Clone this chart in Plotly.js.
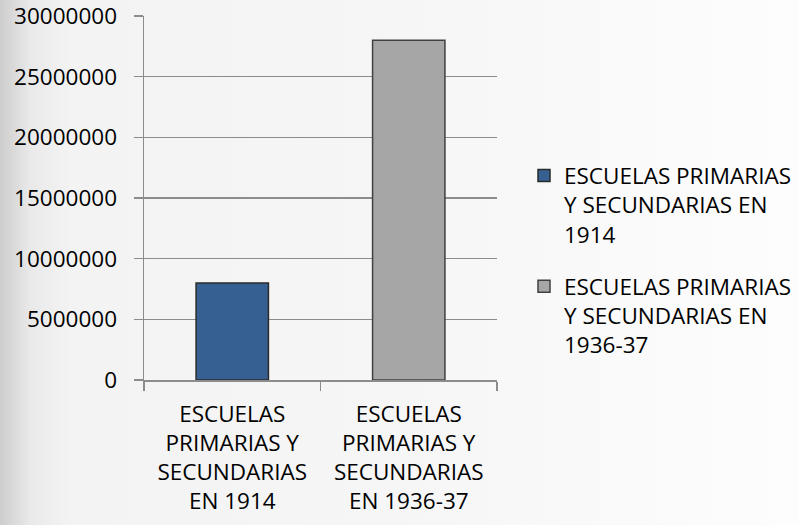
<!DOCTYPE html>
<html>
<head>
<meta charset="utf-8">
<script src="https://cdn.plot.ly/plotly-3.0.1.min.js"></script>
<style>
html, body { margin:0; padding:0; width:799px; height:525px; overflow:hidden;
  background: linear-gradient(to right, #cdcdcd 0px, #e9e9e9 30px, #f3f3f3 70px, #f6f6f6 400px, #fdfdfd 799px); }
#chart { width:799px; height:525px; }
</style>
</head>
<body>
<div id="chart"></div>
<script>
const categories = ["ESCUELAS<br>PRIMARIAS Y<br>SECUNDARIAS<br>EN 1914", "ESCUELAS<br>PRIMARIAS Y<br>SECUNDARIAS<br>EN 1936-37"];
const seriesNames = ["ESCUELAS PRIMARIAS<br>Y SECUNDARIAS EN<br>1914", "ESCUELAS PRIMARIAS<br>Y SECUNDARIAS EN<br>1936-37"];
const values = [8000000, 28000000];
const fillColors = ["#376092", "#a6a6a6"];
const lineColors = ["#2a2a2a", "#404040"];
const yTicks = [0, 5000000, 10000000, 15000000, 20000000, 25000000, 30000000];

const traces = values.map((v, i) => ({
  type: "bar",
  x: [categories[i]],
  y: [v],
  name: seriesNames[i],
  legendgroup: "g" + i,
  width: 0.41,
  marker: { color: fillColors[i], line: { color: lineColors[i], width: 1.5 } },
  hoverinfo: "none"
}));

const FS = 22.5;
const L = 144, PW = 353, R = 0;
const paperW = 799 - L - R;
const layout = {
  width: 799, height: 525,
  margin: { l: L, r: R, t: 16, b: 145, autoexpand: false },
  paper_bgcolor: "rgba(0,0,0,0)",
  plot_bgcolor: "rgba(0,0,0,0)",
  font: { family: "Open Sans", size: FS, color: "#000" },
  barmode: "overlay",
  showlegend: true,
  legend: {
    x: (524 - L) / paperW, xanchor: "left", y: 0.62, yanchor: "top",
    font: { family: "Open Sans", size: FS, color: "#000" },
    traceorder: "grouped",
    tracegroupgap: 20, itemwidth: 30, bgcolor: "rgba(0,0,0,0)",
    valign: "top"
  },
  xaxis: {
    domain: [0, PW / paperW],
    categoryorder: "array", categoryarray: categories,
    showline: true, linecolor: "#8c8c8c", linewidth: 1.5,
    ticks: "outside", tickson: "boundaries", ticklen: 9, tickcolor: "#8c8c8c", tickwidth: 1.5,
    ticklabelstandoff: 13,
    showgrid: false, zeroline: false,
    tickfont: { family: "Open Sans", size: FS, color: "#000" },
    fixedrange: true
  },
  yaxis: {
    range: [0, 30000000], tickvals: yTicks, ticktext: yTicks.map(String),
    showline: true, linecolor: "#8c8c8c", linewidth: 1.5,
    showgrid: true, gridcolor: "#8c8c8c", gridwidth: 1.5,
    ticks: "outside", ticklen: 9, tickcolor: "#8c8c8c", tickwidth: 1.5,
    ticklabelstandoff: 12, ticklabeloverflow: "allow",
    zeroline: false,
    tickfont: { family: "Open Sans", size: FS, color: "#000" },
    fixedrange: true
  }
};

Plotly.newPlot("chart", traces, layout, { displayModeBar: false, staticPlot: true });
</script>
</body>
</html>
